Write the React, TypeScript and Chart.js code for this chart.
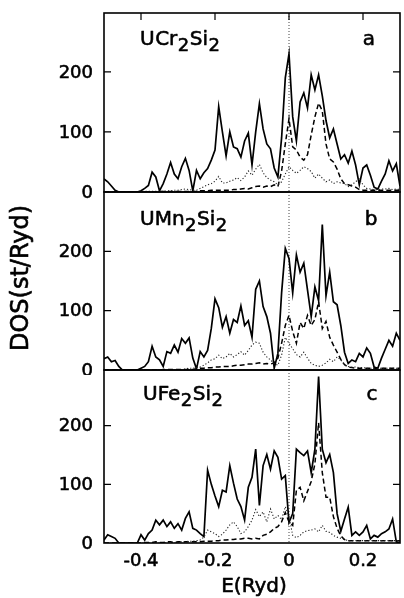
import React, { useEffect, useRef } from 'react';
import { Chart, registerables } from 'chart.js';

Chart.register(...registerables);

// Energy grid (Ryd)
const ENERGY = [
  -0.50, -0.49, -0.48, -0.47, -0.46, -0.45, -0.44, -0.43, -0.42, -0.41,
  -0.40, -0.39, -0.38, -0.37, -0.36, -0.35, -0.34, -0.33, -0.32, -0.31,
  -0.30, -0.29, -0.28, -0.27, -0.26, -0.25, -0.24, -0.23, -0.22, -0.21,
  -0.20, -0.19, -0.18, -0.17, -0.16, -0.15, -0.14, -0.13, -0.12, -0.11,
  -0.10, -0.09, -0.08, -0.07, -0.06, -0.05, -0.04, -0.03, -0.02, -0.01,
  0.00, 0.01, 0.02, 0.03, 0.04, 0.05, 0.06, 0.07, 0.08, 0.09,
  0.10, 0.11, 0.12, 0.13, 0.14, 0.15, 0.16, 0.17, 0.18, 0.19,
  0.20, 0.21, 0.22, 0.23, 0.24, 0.25, 0.26, 0.27, 0.28, 0.29,
  0.30,
];

const X_TICKS = [-0.4, -0.2, 0, 0.2];
const X_TICK_LABELS = ['-0.4', '-0.2', '0', '0.2'];
const Y_TICKS = [0, 100, 200];

// Panel a: UCr2Si2
const A_TOTAL = [
  22, 17, 10, 3, 0, 0, 0, 0, 0, 0,
  2, 6, 11, 33, 25, 2, 14, 30, 49, 30,
  22, 42, 56, 36, 2, 36, 22, 32, 39, 53,
  70, 142, 100, 60, 100, 75, 72, 58, 85, 98,
  45, 100, 147, 105, 80, 72, 40, 25, 90, 190,
  230, 125, 85, 150, 165, 140, 195, 170, 195, 160,
  119, 90, 105, 80, 55, 62, 48, 68, 45, 12,
  40, 45, 28, 8, 5, 18, 30, 52, 35, 47,
  10,
];
const A_DASH = [
  0, 0, 0, 0, 0, 0, 0, 0, 0, 0,
  0, 0, 0, 0, 0, 1, 1, 1, 1, 1,
  1, 1, 1, 1, 1, 1, 2, 2, 2, 3,
  3, 3, 3, 3, 3, 4, 4, 5, 6, 5,
  7, 9, 10, 8, 10, 9, 12, 9, 35, 80,
  122, 75, 70, 58, 53, 62, 95, 125, 148, 135,
  80, 55, 50, 38, 22, 14, 12, 10, 8, 4,
  3, 3, 3, 3, 3, 3, 3, 3, 3, 3,
  3,
];
const A_DOT = [
  0, 0, 0, 0, 0, 0, 0, 0, 0, 0,
  1, 1, 1, 1, 1, 1, 1, 2, 2, 3,
  3, 4, 5, 4, 3, 3, 6, 9, 12, 14,
  18, 26, 15, 15, 18, 20, 24, 19, 25, 35,
  28, 38, 46, 32, 24, 20, 17, 12, 17, 30,
  42, 36, 31, 36, 42, 39, 34, 23, 30, 23,
  17, 20, 14, 17, 15, 14, 9, 12, 17, 22,
  12, 6, 5, 4, 4, 5, 5, 6, 4, 5,
  4,
];

// Panel b: UMn2Si2
const B_TOTAL = [
  19, 22, 14, 16, 6, 0, 0, 0, 0, 0,
  3, 6, 14, 40, 22, 17, 6, 31, 28, 42,
  30, 53, 45, 54, 20, 2, 31, 22, 33, 70,
  120, 105, 72, 90, 62, 85, 80, 108, 75, 83,
  55, 136, 150, 107, 90, 62, 3, 28, 130, 205,
  188, 130, 194, 165, 180, 135, 90, 140, 117, 245,
  125, 165, 115, 110, 75, 30, 11, 17, 14, 28,
  22, 37, 28, 5, 3, 20, 35, 50, 40, 62,
  50,
];
const B_DASH = [
  0, 0, 0, 0, 0, 0, 0, 0, 0, 0,
  0, 0, 0, 0, 0, 0, 1, 1, 1, 1,
  1, 1, 1, 1, 1, 2, 3, 3, 4, 4,
  5, 5, 6, 6, 6, 7, 8, 8, 9, 10,
  10, 11, 12, 10, 11, 10, 12, 20, 45, 75,
  92, 65, 45, 80, 70, 92, 75, 85, 115, 70,
  82, 55, 42, 30, 18, 9, 5, 4, 3, 3,
  3, 3, 3, 3, 3, 3, 3, 3, 3, 3,
  3,
];
const B_DOT = [
  0, 0, 0, 0, 0, 0, 0, 0, 0, 0,
  0, 0, 0, 0, 0, 0, 0, 0, 0, 0,
  0, 0, 2, 3, 3, 4, 5, 8, 12, 17,
  19, 25, 19, 22, 28, 22, 26, 31, 25, 33,
  42, 47, 45, 30, 22, 17, 11, 8, 25, 55,
  45, 36, 26, 22, 30, 20, 11, 8, 6, 8,
  12, 18, 14, 22, 17, 9, 6, 5, 5, 4,
  4, 3, 3, 3, 3, 3, 3, 3, 3, 3,
  3,
];

// Panel c: UFe2Si2
const C_TOTAL = [
  5, 14, 11, 8, 0, 0, 0, 0, 0, 0,
  14, 5, 16, 22, 39, 31, 39, 28, 36, 25,
  33, 22, 42, 53, 25, 22, 16, 11, 124, 100,
  80, 62, 90, 87, 132, 102, 75, 62, 39, 95,
  112, 160, 64, 132, 151, 126, 157, 146, 109, 115,
  35, 50, 160, 154, 149, 157, 120, 160, 284, 160,
  137, 151, 120, 50, 20, 41, 61, 13, 19, 13,
  19, 30, 7, 13, 10, 16, 19, 24, 41, 2,
  0,
];
const C_DASH = [
  0, 0, 0, 0, 0, 0, 0, 0, 0, 0,
  0, 1, 1, 1, 2, 1, 1, 2, 2, 1,
  2, 2, 2, 2, 2, 2, 2, 3, 3, 3,
  4, 4, 5, 5, 6, 6, 7, 7, 8, 8,
  7, 8, 7, 13, 15, 19, 25, 28, 36, 52,
  36, 30, 90, 95, 72, 88, 105, 135, 205, 120,
  78, 78, 45, 25, 12, 6, 4, 4, 4, 4,
  4, 4, 4, 4, 4, 4, 4, 4, 4, 4,
  4,
];
const C_DOT = [
  0, 0, 0, 0, 0, 0, 0, 0, 0, 0,
  0, 0, 0, 0, 0, 0, 0, 0, 0, 0,
  0, 2, 2, 3, 3, 4, 5, 10, 22, 19,
  16, 11, 15, 22, 31, 36, 28, 16, 19, 28,
  39, 57, 45, 53, 36, 58, 41, 47, 40, 62,
  45, 13, 9, 13, 19, 21, 22, 24, 19, 30,
  20, 18, 13, 10, 8, 6, 4, 4, 4, 4,
  4, 4, 4, 4, 4, 4, 4, 4, 4, 4,
  4,
];

const FONT = '"DejaVu Sans", "Liberation Sans", Arial, sans-serif';

type Part = [string, boolean];

// text with a slight emboldening stroke, like the scanned print
function heavyText(ctx: CanvasRenderingContext2D, txt: string, x: number, y: number) {
  ctx.fillText(txt, x, y);
  ctx.strokeText(txt, x, y);
}

const decorPlugin = {
  id: 'decor',
  beforeDatasetsDraw(chart: any) {
    const { ctx, chartArea } = chart;
    const x = chart.scales.x;
    const x0 = x.getPixelForValue(0);
    ctx.save();
    ctx.strokeStyle = '#444';
    ctx.lineWidth = 1;
    ctx.setLineDash([1, 2]);
    ctx.beginPath();
    ctx.moveTo(x0, chartArea.top);
    ctx.lineTo(x0, chartArea.bottom);
    ctx.stroke();
    ctx.restore();
  },
  afterDatasetsDraw(chart: any, _args: any, opts: any) {
    const { ctx, chartArea } = chart;
    const { left, right, top, bottom } = chartArea;
    const x = chart.scales.x;
    const y = chart.scales.y;
    ctx.save();
    ctx.setLineDash([]);
    ctx.strokeStyle = '#000';
    ctx.lineWidth = 1.6;
    ctx.strokeRect(left, top, right - left, bottom - top);
    ctx.lineWidth = 1.2;
    ctx.beginPath();
    for (const v of Y_TICKS) {
      if (v === 0) continue;
      const py = y.getPixelForValue(v);
      ctx.moveTo(left, py);
      ctx.lineTo(left + 7, py);
      ctx.moveTo(right, py);
      ctx.lineTo(right - 7, py);
    }
    if (opts.topTicks) {
      for (const v of X_TICKS) {
        const px = x.getPixelForValue(v);
        ctx.moveTo(px, top);
        ctx.lineTo(px, top + 7);
      }
    }
    ctx.stroke();

    ctx.fillStyle = '#000';
    ctx.strokeStyle = '#000';
    ctx.lineWidth = 0.6;
    ctx.lineJoin = 'round';

    // y tick labels
    ctx.font = `18px ${FONT}`;
    ctx.textAlign = 'right';
    ctx.textBaseline = 'middle';
    for (const v of Y_TICKS) {
      const py = y.getPixelForValue(v);
      heavyText(ctx, String(v), left - 11, py + 1);
    }

    // x tick labels
    if (opts.xLabels) {
      ctx.textAlign = 'center';
      ctx.textBaseline = 'top';
      X_TICKS.forEach((v, i) => {
        heavyText(ctx, X_TICK_LABELS[i], x.getPixelForValue(v), bottom + 9);
      });
    }

    // compound label
    ctx.textBaseline = 'alphabetic';
    ctx.textAlign = 'left';
    let cx = left + opts.labelDx;
    const by = top + opts.labelDy;
    for (const [txt, sub] of opts.parts as Part[]) {
      ctx.font = sub ? `18px ${FONT}` : `20px ${FONT}`;
      heavyText(ctx, txt, cx, sub ? by + 6 : by);
      cx += ctx.measureText(txt).width + 0.5;
    }
    ctx.font = `20px ${FONT}`;
    ctx.textAlign = 'center';
    heavyText(ctx, opts.letter, opts.letterX, by);

    if (opts.yTitle) {
      ctx.save();
      ctx.translate(opts.yTitle.x, opts.yTitle.y);
      ctx.rotate(-Math.PI / 2);
      ctx.font = `24px ${FONT}`;
      ctx.textAlign = 'center';
      ctx.textBaseline = 'middle';
      heavyText(ctx, opts.yTitle.text, 0, 0);
      ctx.restore();
    }
    if (opts.xTitle) {
      ctx.font = `20px ${FONT}`;
      ctx.textAlign = 'center';
      ctx.textBaseline = 'alphabetic';
      heavyText(ctx, opts.xTitle.text, opts.xTitle.x, opts.xTitle.y);
    }
    ctx.restore();
  },
};

interface PanelProps {
  top: number;
  height: number;
  padTop: number;
  padBottom: number;
  yMax: number;
  total: number[];
  dash: number[];
  dot: number[];
  showX: boolean;
  decor: any;
}

function toPoints(vals: number[]) {
  return ENERGY.map((e, i) => ({ x: e, y: vals[i] }));
}

function Panel(props: PanelProps) {
  const ref = useRef<HTMLCanvasElement>(null);
  useEffect(() => {
    const p = props;
    const chart = new Chart(ref.current as HTMLCanvasElement, {
      type: 'line',
      data: {
        datasets: [
          {
            data: toPoints(p.dot),
            borderColor: '#222',
            borderWidth: 1.1,
            borderDash: [1.2, 2],
            pointRadius: 0,
            tension: 0,
            fill: false,
          },
          {
            data: toPoints(p.dash),
            borderColor: '#000',
            borderWidth: 1.5,
            borderDash: [5, 3],
            pointRadius: 0,
            tension: 0,
            fill: false,
          },
          {
            data: toPoints(p.total),
            borderColor: '#000',
            borderWidth: 1.7,
            pointRadius: 0,
            tension: 0,
            fill: false,
          },
        ],
      },
      options: {
        animation: false,
        responsive: false,
        devicePixelRatio: 1,
        layout: { padding: { top: p.padTop, bottom: p.padBottom, left: 0, right: 4 } },
        plugins: {
          legend: { display: false },
          tooltip: { enabled: false },
          decor: { ...p.decor, xLabels: p.showX },
        } as any,
        scales: {
          x: {
            type: 'linear',
            min: -0.5,
            max: 0.3,
            display: p.showX,
            afterFit: (s: any) => {
              if (p.showX) s.height = 55;
            },
            grid: { display: false, drawTicks: false },
            border: { display: false },
            ticks: { display: false },
          },
          y: {
            type: 'linear',
            min: 0,
            max: p.yMax,
            afterFit: (s: any) => {
              s.width = 104;
            },
            grid: { display: false, drawTicks: false },
            border: { display: false },
            ticks: { display: false },
          },
        },
      } as any,
      plugins: [decorPlugin],
    });
    return () => chart.destroy();
  }, []);
  return (
    <canvas
      ref={ref}
      width={404}
      height={props.height}
      style={{ position: 'absolute', left: 0, top: props.top, width: 404, height: props.height }}
    />
  );
}

export default function App() {
  return (
    <div style={{ position: 'absolute', left: 0, top: 0, width: 404, height: 598, background: '#fff' }}>
      <Panel
        top={0}
        height={200}
        padTop={13}
        padBottom={8}
        yMax={298}
        total={A_TOTAL}
        dash={A_DASH}
        dot={A_DOT}
        showX={false}
        decor={{
          topTicks: true,
          parts: [['U', false], ['Cr', false], ['2', true], ['Si', false], ['2', true]],
          labelDx: 36,
          labelDy: 32,
          letter: 'a',
          letterX: 369,
        }}
      />
      <Panel
        top={185}
        height={190}
        padTop={7}
        padBottom={5}
        yMax={300}
        total={B_TOTAL}
        dash={B_DASH}
        dot={B_DOT}
        showX={false}
        decor={{
          topTicks: false,
          parts: [['UMn', false], ['2', true], ['Si', false], ['2', true]],
          labelDx: 36,
          labelDy: 33,
          letter: 'b',
          letterX: 371,
          yTitle: { text: 'DOS(st/Ryd)', x: 22, y: 93 },
        }}
      />
      <Panel
        top={362}
        height={236}
        padTop={8}
        padBottom={0}
        yMax={295}
        total={C_TOTAL}
        dash={C_DASH}
        dot={C_DOT}
        showX={true}
        decor={{
          topTicks: false,
          parts: [['UFe', false], ['2', true], ['Si', false], ['2', true]],
          labelDx: 39,
          labelDy: 30,
          letter: 'c',
          letterX: 372,
          xTitle: { text: 'E(Ryd)', x: 254, y: 230 },
        }}
      />
    </div>
  );
}
